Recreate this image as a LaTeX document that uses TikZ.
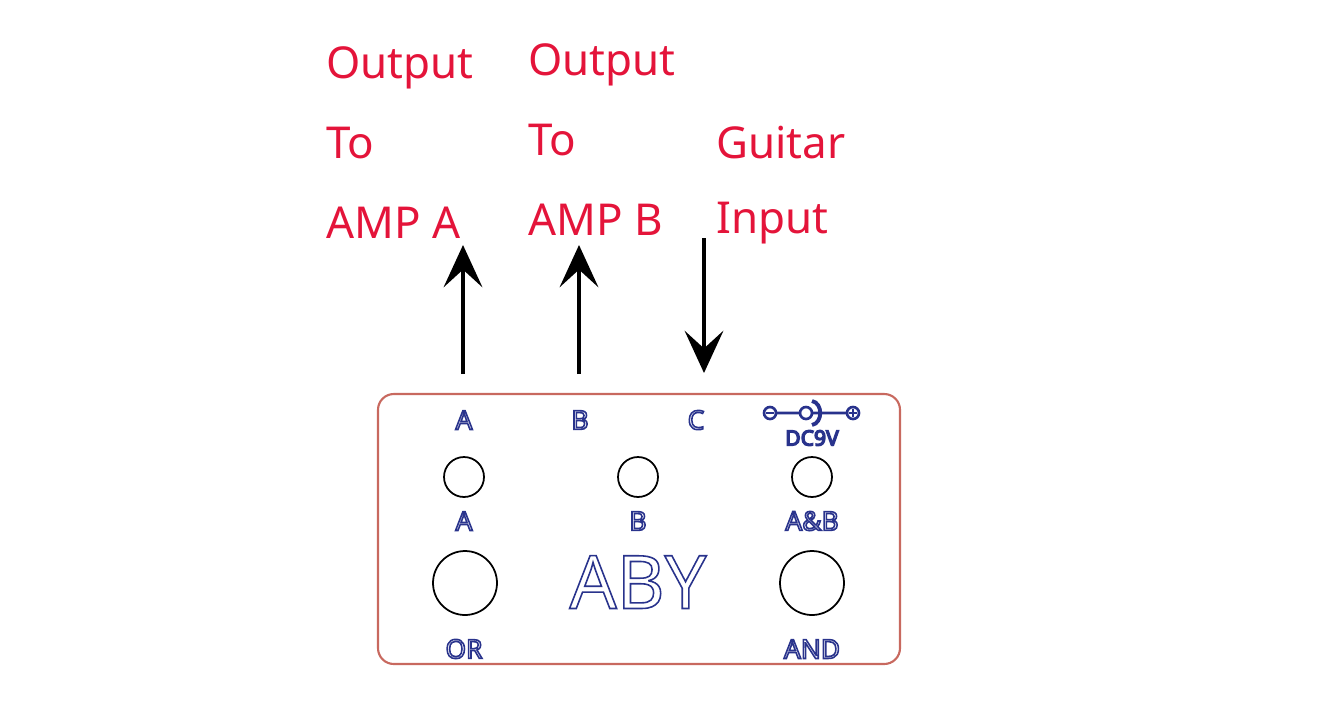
\documentclass[tikz,border=0pt]{standalone}
\usepackage{fontspec}
\setmainfont{Noto Sans}
\usetikzlibrary{arrows.meta,positioning}
\definecolor{lbl}{RGB}{228,20,58}
\definecolor{ink}{RGB}{40,50,140}
\definecolor{frame}{RGB}{200,105,95}
\newcommand{\outl}[1]{\special{pdf:literal direct 1 Tr 0.9 w 0.16 0.2 0.55 RG}#1\special{pdf:literal direct 0 Tr}}
\newcommand{\heavy}[1]{\special{pdf:literal direct 2 Tr 0.8 w 0.16 0.2 0.55 RG}#1\special{pdf:literal direct 0 Tr}}
\tikzset{
  note/.style={anchor=base west, text=lbl, font=\fontsize{25}{25}\selectfont, inner sep=0pt},
  jack/.style={font=\bfseries\fontsize{15}{15}\selectfont, text=ink, inner sep=0pt},
  knob/.style={draw, circle, line width=1pt, inner sep=0pt},
  flow/.style={line width=2.6pt, -{Stealth[length=24pt,width=22pt,inset=10pt]}}
}
\begin{document}
\begin{tikzpicture}[x=0.02cm,y=-0.02cm]
  \useasboundingbox (0,0) rectangle (1325,711);
  % labels
  \node[note] (oa1) at (326,78) {Output};
  \node[note] (oa2) at (326,158) {To};
  \node[note] (oa3) at (326,238) {AMP A};
  \node[note] (ob1) at (528,75) {Output};
  \node[note] (ob2) at (528,155) {To};
  \node[note] (ob3) at (528,235) {AMP B};
  \node[note] (gi1) at (716,158) {Guitar};
  \node[note] (gi2) at (716,233) {Input};
  % arrows
  \coordinate (atail) at (463,374); \coordinate (ahead) at (463,245);
  \coordinate (btail) at (579,374); \coordinate (bhead) at (579,245);
  \coordinate (ctail) at (704,238); \coordinate (chead) at (704,373);
  \draw[flow] (atail) -- (ahead);
  \draw[flow] (btail) -- (bhead);
  \draw[flow] (ctail) -- (chead);
  % enclosure
  \draw[frame, line width=1.2pt, rounded corners=9pt] (378,394) rectangle (900,664);
  \node[jack] (ja) at (464,420) {\outl{A}};
  \node[jack] (jb) at (580,420) {\outl{B}};
  \node[jack] (jc) at (696,420) {\outl{C}};
  \node[jack, font=\bfseries\fontsize{12}{12}\selectfont] (dc) at (812,438) {\heavy{DC9V}};
  % power symbol
  \draw[ink, line width=1.5pt] (770,413) circle (6) (776,413) -- (800,413)
    (806,413) circle (6) (812,413) -- (847,413) (853,413) circle (6);
  \draw[ink, line width=2.2pt] (812,401) .. controls (823,403) and (823,423) .. (812,425);
  \draw[ink, line width=1pt] (766,413) -- (774,413) (849,413) -- (857,413) (853,409) -- (853,417);
  % switches
  \node[knob, minimum size=0.8cm] (la) at (464,477) {};
  \node[knob, minimum size=0.8cm] (lb) at (638,477) {};
  \node[knob, minimum size=0.8cm] (lab) at (812,477) {};
  \node[jack] (ta) at (464,521) {\outl{A}};
  \node[jack] (tb) at (638,521) {\outl{B}};
  \node[jack] (tab) at (812,521) {\outl{A\&B}};
  \node[knob, minimum size=1.28cm] (sor) at (465,583) {};
  \node[knob, minimum size=1.28cm] (sand) at (812,583) {};
  \node[jack] (tor) at (464,649) {\outl{OR}};
  \node[jack] (tand) at (812,649) {\outl{AND}};
  \node[jack, font=\fontsize{42}{42}\selectfont] (aby) at (638,582) {\outl{ABY}};
\end{tikzpicture}
\end{document}
